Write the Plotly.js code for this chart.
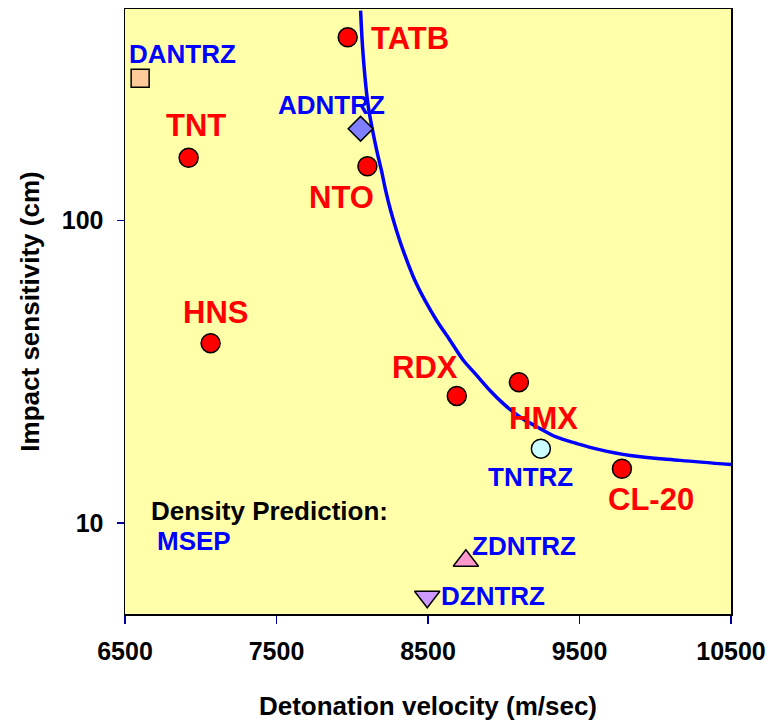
<!DOCTYPE html>
<html>
<head>
<meta charset="utf-8">
<script src="https://cdn.plot.ly/plotly-3.0.1.min.js"></script>
<style>html,body{margin:0;padding:0;background:#fff;}#chart{width:778px;height:721px;}</style>
</head>
<body>
<div id="chart"></div>
<script>
// ---- data ----
const knownNames = ['TATB', 'TNT', 'NTO', 'HNS', 'RDX', 'HMX', 'CL-20'];
const knownVelocity = [7970, 6920, 8100, 7065, 8690, 9100, 9780];
const knownImpact = [403, 161, 151, 39.3, 26.3, 29.2, 15.1];

const newNames = ['DANTRZ', 'ADNTRZ', 'TNTRZ', 'ZDNTRZ', 'DZNTRZ'];
const newVelocity = [6600, 8055, 9245, 8750, 8495];
const newImpact = [295, 201, 17.6, 7.5, 5.7];

const curveVelocity = [8055, 8072, 8105, 8162, 8193, 8220, 8253, 8292, 8336, 8413, 8480, 8557, 8645, 8733, 8810, 8909, 8997, 9107, 9218, 9350, 9482, 9625, 9834, 10165, 10500];
const curveImpact = [494, 351, 240, 170, 146, 126, 108, 92.7, 79.6, 63.4, 54.4, 46.7, 40.2, 34.5, 31.2, 27.4, 24.8, 22.4, 20.8, 19.2, 18.3, 17.5, 16.7, 16.1, 15.6];

const xTickVals = [6500, 7500, 8500, 9500, 10500];
const yTickVals = [10, 100];

const xTitle = 'Detonation velocity (m/sec)';
const yTitle = 'Impact sensitivity (cm)';
const noteTitle = 'Density Prediction:';
const noteMethod = 'MSEP';

// ---- styles ----
const FONT = '"Liberation Sans", Arial, sans-serif';
const newStyle = {
  'DANTRZ': {symbol: 'square', color: '#ffcc99', size: 18},
  'ADNTRZ': {symbol: 'diamond', color: '#8080ff', size: 19},
  'TNTRZ':  {symbol: 'circle', color: '#ccffff', size: 19},
  'ZDNTRZ': {symbol: 'triangle-up', color: '#ff99cc', size: 22},
  'DZNTRZ': {symbol: 'triangle-down', color: '#cc99ff', size: 22}
};
const labelShift = {
  'TATB': [62, -1], 'TNT': [7, 32], 'NTO': [-26, -31], 'HNS': [5, 31],
  'RDX': [-32, 28], 'HMX': [25, -36], 'CL-20': [29, -31],
  'DANTRZ': [42, 24], 'ADNTRZ': [-29, 24], 'TNTRZ': [-10, -28],
  'ZDNTRZ': [58, 15], 'DZNTRZ': [66, 1]
};

const traces = [
  {
    x: curveVelocity, y: curveImpact, type: 'scatter', mode: 'lines',
    line: {color: '#0000ff', width: 3.5, shape: 'spline', smoothing: 1},
    hoverinfo: 'skip', showlegend: false
  },
  {
    x: knownVelocity, y: knownImpact, text: knownNames, type: 'scatter', mode: 'markers',
    marker: {symbol: 'circle', size: 19, color: '#ff0000', line: {color: '#000000', width: 1.5}},
    showlegend: false
  }
];
newNames.forEach((n, i) => {
  const s = newStyle[n];
  traces.push({
    x: [newVelocity[i]], y: [newImpact[i]], text: [n], type: 'scatter', mode: 'markers',
    marker: {symbol: s.symbol, size: s.size, color: s.color, line: {color: '#000000', width: 1.5}},
    showlegend: false, cliponaxis: false
  });
});

const annotations = [];
knownNames.forEach((n, i) => {
  annotations.push({
    x: knownVelocity[i], y: Math.log10(knownImpact[i]), xref: 'x', yref: 'y', text: n,
    showarrow: false, xshift: labelShift[n][0], yshift: labelShift[n][1],
    xanchor: 'center', yanchor: 'middle',
    font: {family: FONT, size: 31, color: '#ff0000', weight: 'bold'}
  });
});
newNames.forEach((n, i) => {
  annotations.push({
    x: newVelocity[i], y: Math.log10(newImpact[i]), xref: 'x', yref: 'y', text: n,
    showarrow: false, xshift: labelShift[n][0], yshift: labelShift[n][1],
    xanchor: 'center', yanchor: 'middle',
    font: {family: FONT, size: 26, color: '#0000ff', weight: 'bold'}
  });
});
annotations.push({
  x: 0.239, y: 0.170, xref: 'paper', yref: 'paper', text: noteTitle, showarrow: false,
  xanchor: 'center', yanchor: 'middle',
  font: {family: FONT, size: 26, color: '#000000', weight: 'bold'}
});
annotations.push({
  x: 0.114, y: 0.121, xref: 'paper', yref: 'paper', text: noteMethod, showarrow: false,
  xanchor: 'center', yanchor: 'middle',
  font: {family: FONT, size: 26, color: '#0000ff', weight: 'bold'}
});

const layout = {
  width: 778, height: 721,
  margin: {l: 125, r: 47, t: 9, b: 107, pad: 0},
  paper_bgcolor: '#ffffff', plot_bgcolor: '#ffffaa',
  font: {family: FONT, color: '#000000'},
  showlegend: false,
  xaxis: {
    range: [6500, 10500], tickvals: xTickVals, ticktext: xTickVals.map(String),
    ticks: 'outside', ticklen: 8, tickwidth: 1.5, tickcolor: '#000099',
    ticklabelstandoff: 6,
    showgrid: false, zeroline: false, showline: true, mirror: true,
    linecolor: '#000000', linewidth: 1.5,
    tickfont: {family: FONT, size: 25, color: '#000000', weight: 'bold'},
    title: {text: xTitle, standoff: 33, font: {family: FONT, size: 26, color: '#000000', weight: 'bold'}},
    automargin: false
  },
  yaxis: {
    type: 'log', range: [Math.log10(5), Math.log10(500)],
    tickvals: yTickVals, ticktext: yTickVals.map(String),
    ticks: 'outside', ticklen: 7, tickwidth: 1.5, tickcolor: '#000099',
    ticklabelstandoff: 8,
    showgrid: false, zeroline: false, showline: true, mirror: true,
    linecolor: '#000000', linewidth: 1.5,
    tickfont: {family: FONT, size: 25, color: '#000000', weight: 'bold'},
    title: {text: yTitle, standoff: 14, font: {family: FONT, size: 26, color: '#000000', weight: 'bold'}},
    automargin: false
  },
  annotations: annotations
};

Plotly.newPlot('chart', traces, layout, {displayModeBar: false, staticPlot: true});
</script>
</body>
</html>
